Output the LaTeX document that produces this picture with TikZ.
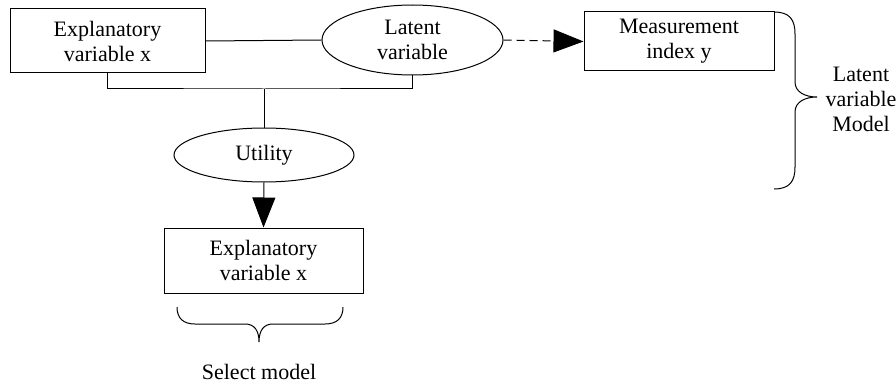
\documentclass[tikz,border=0pt]{standalone}
\usepackage{fontspec}
\setmainfont{Liberation Serif}
\usetikzlibrary{shapes.geometric,arrows.meta}
\begin{document}
\begin{tikzpicture}[x=1pt,y=-1pt,
  every node/.style={font=\fontsize{22}{25}\selectfont, align=center, inner sep=0pt},
  rbox/.style={draw, line width=1pt, rectangle},
  oval/.style={draw, line width=1pt, ellipse},
  conn/.style={line width=1pt},
  bigarrow/.style={conn, -{Triangle[length=30pt,width=23pt]}},
  bracepath/.style={line width=1pt}
]
\useasboundingbox (0,0) rectangle (896,385);
\node[rbox, minimum width=195pt, minimum height=64pt] (box1) at (107.5,41) {Explanatory\\variable x};
\node[oval, minimum width=181pt, minimum height=70pt] (lat) at (412.5,40) {Latent\\variable};
\node[rbox, minimum width=190pt, minimum height=59pt] (meas) at (679,41.5) {Measurement\\index y};
\node[oval, minimum width=180pt, minimum height=54pt] (util) at (264,155) {Utility};
\node[rbox, minimum width=199pt, minimum height=65pt] (box2) at (263.5,260.5) {Explanatory\\variable x};
\node (lvm) at (861,99) {Latent\\variable\\Model};
\node (sel) at (259,372) {Select model};
\coordinate (j) at (264,89);

\draw[conn] (box1.east) -- (lat.west);
\draw[conn] (box1.south) |- (j) -| (lat.south);
\draw[conn] (j) -- (util.north);
\draw[bigarrow] (util.south) -- (box2.north);
\draw[bigarrow, dash pattern=on 8pt off 5pt] (lat.east) -- (meas.west);

% right brace
\draw[bracepath] (774,12) .. controls (790,12) and (795,20) .. (795,34)
  -- (795,82) .. controls (795,92) and (805,97) .. (817,97)
  .. controls (805,97) and (795,102) .. (795,112)
  -- (795,167) .. controls (795,181) and (790,189) .. (774,189);
% bottom brace
\draw[bracepath] (177,307) .. controls (177,318) and (183,324) .. (195,324)
  -- (245,324) .. controls (254,324) and (259,330) .. (259,342)
  .. controls (259,330) and (264,324) .. (273,324)
  -- (325,324) .. controls (337,324) and (343,318) .. (343,307);
\end{tikzpicture}
\end{document}
